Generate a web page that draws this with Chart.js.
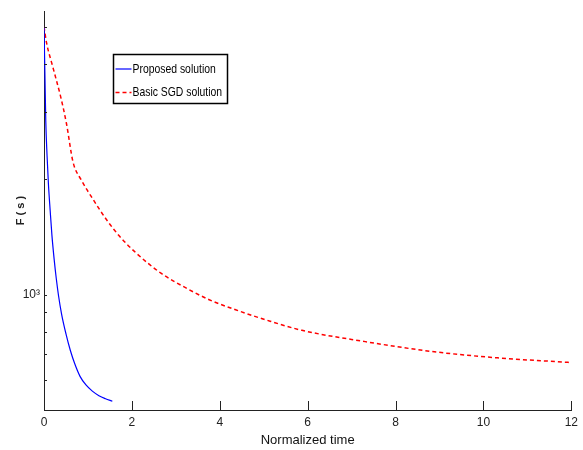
<!DOCTYPE html>
<html>
<head>
<meta charset="utf-8">
<script src="https://cdn.jsdelivr.net/npm/chart.js@4/dist/chart.umd.min.js"></script>
<style>
  html, body { margin: 0; padding: 0; background: #fff; }
  #wrap { width: 583px; height: 450px; }
</style>
</head>
<body>
<div id="wrap"><canvas id="chart"></canvas></div>
<script>
// --- DATA ---
const sgdTime   = [0, 0.06, 0.2, 0.38, 0.51, 0.66, 0.85, 1.12, 1.42, 1.72, 2.1, 2.66, 3.23, 3.76, 4.36, 5.04, 5.87, 7.31, 8.81, 10.32, 11.91, 12];
const sgdValues = [5000, 4530, 3930, 3280, 2800, 2220, 1990, 1770, 1570, 1420, 1283, 1138, 1041, 970, 913, 860, 807, 754, 711, 684, 666, 665];

const propTime   = [0, 0.02, 0.04, 0.07, 0.1, 0.14, 0.18, 0.23, 0.28, 0.33, 0.4, 0.5, 0.6, 0.7, 0.82, 0.95, 1.1, 1.25, 1.4, 1.555];
const propValues = [5000, 3800, 2850, 2300, 1950, 1660, 1430, 1240, 1100, 995, 890, 790, 715, 660, 612, 582, 560, 545, 535, 527];

const seriesLabels = ['Proposed solution', 'Basic SGD solution'];
const xTicks = [0, 2, 4, 6, 8, 10, 12];
const yTicks = [600, 700, 800, 900, 1000, 2000, 3000, 4000, 5000];
const yLabelled = { 1000: '10\u00B3' };

const FONT = "'Liberation Sans', Arial, sans-serif";

// --- inner tick marks, MATLAB style ---
const innerTicks = {
    id: 'innerTicks',
    afterDraw(chart) {
        const { ctx, chartArea, scales } = chart;
        ctx.save();
        ctx.strokeStyle = '#222';
        ctx.lineWidth = 1;
        ctx.beginPath();
        xTicks.forEach(v => {
            if (v === 0) return;
            const x = Math.round(scales.x.getPixelForValue(v)) + 0.5;
            ctx.moveTo(x, chartArea.bottom);
            ctx.lineTo(x, chartArea.bottom - 9);
        });
        yTicks.forEach(v => {
            const y = Math.round(scales.y.getPixelForValue(v)) + 0.5;
            ctx.moveTo(chartArea.left, y);
            ctx.lineTo(chartArea.left + 3, y);
        });
        ctx.stroke();
        ctx.restore();
    }
};

// --- legend box inside the plot ---
const boxLegend = {
    id: 'boxLegend',
    afterDraw(chart) {
        const ctx = chart.ctx;
        const bx = 113.5, by = 54.5, bw = 114, bh = 49;
        ctx.save();
        ctx.fillStyle = '#fff';
        ctx.fillRect(bx, by, bw, bh);
        ctx.strokeStyle = '#000';
        ctx.lineWidth = 1.5;
        ctx.strokeRect(bx, by, bw, bh);
        chart.data.datasets.forEach((ds, i) => {
            const y = by + 14.5 + i * 23.5;
            ctx.strokeStyle = ds.borderColor;
            ctx.lineWidth = ds.borderWidth;
            ctx.setLineDash(ds.borderDash || []);
            ctx.beginPath();
            ctx.moveTo(bx + 2, y);
            ctx.lineTo(bx + 18, y);
            ctx.stroke();
            ctx.setLineDash([]);
            // condensed text, like the original narrow face
            ctx.save();
            ctx.translate(bx + 19, y);
            ctx.scale(0.8, 1);
            ctx.font = '13px ' + FONT;
            ctx.textBaseline = 'middle';
            ctx.fillStyle = '#000';
            ctx.fillText(ds.label, 0, 0);
            ctx.restore();
        });
        ctx.restore();
    }
};

const toPoints = (xs, ys) => xs.map((x, i) => ({ x: x, y: ys[i] }));

new Chart(document.getElementById('chart'), {
    type: 'line',
    data: {
        datasets: [
            {
                label: seriesLabels[0],
                data: toPoints(propTime, propValues),
                borderColor: '#0000ff',
                borderWidth: 1.2,
                pointRadius: 0,
                cubicInterpolationMode: 'monotone',
                fill: false
            },
            {
                label: seriesLabels[1],
                data: toPoints(sgdTime, sgdValues),
                borderColor: '#ff0000',
                borderWidth: 1.5,
                borderDash: [4, 3],
                pointRadius: 0,
                cubicInterpolationMode: 'monotone',
                fill: false
            }
        ]
    },
    options: {
        responsive: true,
        maintainAspectRatio: false,
        animation: false,
        layout: { padding: { top: 11, right: 9, left: 0, bottom: 0 } },
        plugins: { legend: { display: false }, tooltip: { enabled: false } },
        scales: {
            x: {
                type: 'linear',
                min: 0,
                max: 12,
                afterFit: s => { s.height = 40; },
                afterBuildTicks: s => { s.ticks = xTicks.map(v => ({ value: v })); },
                grid: { display: false, drawTicks: false },
                border: { display: true, color: '#222', width: 1 },
                ticks: { color: '#222', font: { family: FONT, size: 12 }, padding: 5, maxRotation: 0 },
                title: {
                    display: true,
                    text: 'Normalized time',
                    color: '#111',
                    font: { family: FONT, size: 13 },
                    padding: { top: 0, bottom: 2 }
                }
            },
            y: {
                type: 'logarithmic',
                min: 500,
                max: 5490,
                afterFit: s => { s.width = 44; },
                afterBuildTicks: s => { s.ticks = yTicks.map(v => ({ value: v })); },
                grid: { display: false, drawTicks: false },
                border: { display: true, color: '#222', width: 1 },
                ticks: {
                    color: '#222',
                    font: { family: FONT, size: 12 },
                    padding: 4,
                    autoSkip: false,
                    callback: v => yLabelled[v] || ''
                },
                title: {
                    display: true,
                    text: 'F ( s )',
                    color: '#222',
                    font: { family: FONT, size: 11, weight: 'bold' },
                    padding: { top: 14, bottom: 0 }
                }
            }
        }
    },
    plugins: [innerTicks, boxLegend]
});
</script>
</body>
</html>
